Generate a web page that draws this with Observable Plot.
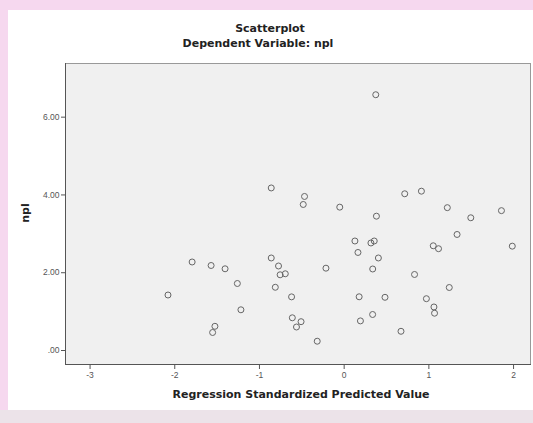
<!DOCTYPE html>
<html>
<head>
<meta charset="utf-8">
<script src="https://cdn.jsdelivr.net/npm/d3@7"></script>
<script src="https://cdn.jsdelivr.net/npm/@observablehq/plot@0.6"></script>
<style>
  html, body { margin: 0; padding: 0; }
  body { width: 533px; height: 423px; background: #f6d8ef; position: relative; overflow: hidden;
         font-family: "DejaVu Sans", sans-serif; }
  #panel { position: absolute; left: 8px; top: 10px; width: 525px; height: 400px; background: #ffffff; }
  #bottomband { position: absolute; left: 0; top: 410px; width: 533px; height: 13px; background: #ece3e9; }
  .t { position: absolute; font-weight: bold; color: #222; white-space: nowrap; transform: translate(-50%, -50%); font-size: 11px; }
  #chart { position: absolute; left: 0; top: 55px; }
</style>
</head>
<body>
<div id="panel"></div>
<div id="bottomband"></div>
<div class="t" style="left:270px; top:28px;">Scatterplot</div>
<div class="t" style="left:258px; top:43px;">Dependent Variable: npl</div>
<div class="t" style="left:25px; top:213px; transform: translate(-50%, -50%) rotate(-90deg);">npl</div>
<div class="t" style="left:301px; top:394px;">Regression Standardized Predicted Value</div>
<div id="chart"></div>
<script>
// Regression standardized predicted value (x) and npl (y)
const predicted = [
  0.373, -0.861, -0.468, -0.483, -0.052, 0.381, 0.715, 0.912, 1.218, 1.495,
  1.857, -1.795, -1.571, -1.406, -0.861, -0.775, -0.215, 1.333, 0.127, 0.316,
  0.355, 0.163, 0.404, 1.052, 1.114, 1.985, 0.337, -1.261, -2.080, -1.219,
  -1.526, -1.553, -0.756, -0.695, -0.813, -0.621, -0.612, -0.509, -0.563, -0.318,
  0.831, 1.241, 0.177, 0.482, 0.971, 1.060, 1.067, 0.336, 0.192, 0.671
];
const npl = [
  6.577, 4.180, 3.961, 3.755, 3.686, 3.454, 4.030, 4.097, 3.673, 3.413,
  3.596, 2.276, 2.186, 2.101, 2.379, 2.173, 2.117, 2.984, 2.816, 2.765,
  2.816, 2.521, 2.379, 2.693, 2.618, 2.683, 2.096, 1.723, 1.427, 1.047,
  0.622, 0.463, 1.947, 1.973, 1.626, 1.379, 0.841, 0.741, 0.604, 0.239,
  1.955, 1.620, 1.381, 1.368, 1.332, 1.119, 0.959, 0.926, 0.761, 0.494
];
const xTicks = [-3, -2, -1, 0, 1, 2];
const yTicks = [0, 2, 4, 6];
const yTickLabels = [".00", "2.00", "4.00", "6.00"];

const data = predicted.map((p, i) => ({x: p, y: npl[i]}));

const chart = Plot.plot({
  width: 533,
  height: 345,
  marginTop: 8,
  marginBottom: 36,
  marginLeft: 65,
  marginRight: 3,
  style: {background: "transparent", fontFamily: "Liberation Sans, Arial, sans-serif", color: "#555"},
  x: {domain: [-3.29, 2.2], ticks: xTicks, tickFormat: d => String(d), tickSize: 5, tickPadding: 2, label: null},
  y: {domain: [-0.36, 7.38], ticks: yTicks, tickFormat: d => yTickLabels[yTicks.indexOf(d)], tickSize: 4, tickPadding: 2, label: null},
  marks: [
    Plot.frame({fill: "#f0f0f0", stroke: "#999"}),
    Plot.frame({anchor: "left", stroke: "#555"}),
    Plot.frame({anchor: "bottom", stroke: "#555"}),
    Plot.axisX({ticks: xTicks, tickFormat: d => String(d), tickSize: 5, tickPadding: 2, fontSize: 8.5, stroke: "#555", fill: "#555", label: null}),
    Plot.axisY({ticks: yTicks, tickFormat: d => yTickLabels[yTicks.indexOf(d)], tickSize: 4, tickPadding: 2, fontSize: 8.5, stroke: "#555", fill: "#555", label: null}),
    Plot.dot(data, {x: "x", y: "y", r: 3, stroke: "#666", strokeWidth: 1, fill: "none"})
  ]
});
document.getElementById("chart").appendChild(chart);
</script>
</body>
</html>
